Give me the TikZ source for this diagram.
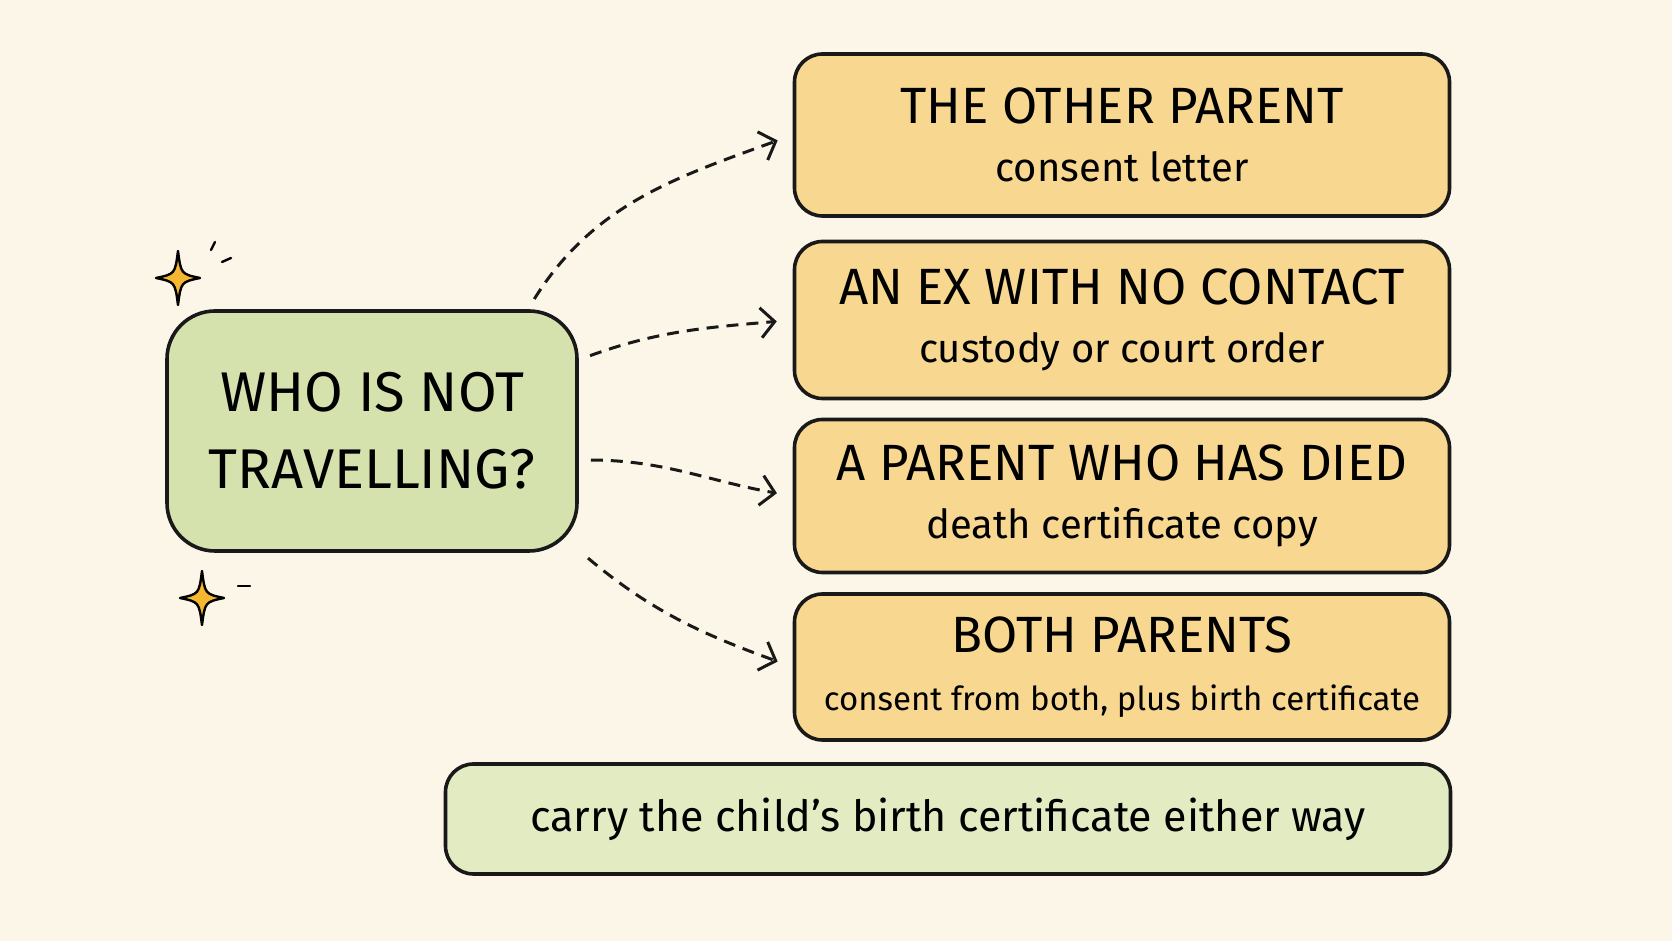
\documentclass[tikz,border=0pt]{standalone}
\usepackage{fontspec}
\newfontfamily\hand{Fira Sans}
\usetikzlibrary{arrows.meta}
\definecolor{paper}{HTML}{FBF6E8}
\definecolor{sage}{HTML}{D6E2AE}
\definecolor{sagelight}{HTML}{E3EBC3}
\definecolor{apricot}{HTML}{F8D891}
\definecolor{starfill}{HTML}{F5B731}
\tikzset{
box/.style={shape=rectangle, rounded corners=28pt, draw=black!90, line width=3.6pt, align=center, inner sep=0pt},
question/.style={box, fill=sage, minimum width=410pt, minimum height=240pt, rounded corners=48pt, font=\hand\fontsize{56}{77}\selectfont},
answer/.style={box, fill=apricot, minimum width=655pt, font=\hand\fontsize{40}{58}\selectfont},
note/.style={box, fill=sagelight, minimum width=1005pt, minimum height=110pt, font=\hand\fontsize{43}{48}\selectfont},
link/.style={line width=3pt, draw=black!90, dash pattern=on 12pt off 8pt, -{Straight Barb[length=14pt, width=30pt, line width=3pt]}, shorten >=16pt},
flick/.style={line width=2.4pt, line cap=round},
sparkle/.pic={\draw [line width=2.4pt, fill=starfill, line join=round] (0,27) .. controls (3,4) .. (22,0) .. controls (3,-4) .. (0,-27) .. controls (-3,-4) .. (-22,0) .. controls (-3,4) .. cycle;}}
\begin{document}
\begin{tikzpicture}[x=1pt, y=1pt]
\useasboundingbox [fill=paper] (0,0) rectangle (1672,941);
\node [question] (who) at (372,510) {WHO IS NOT\\TRAVELLING?};
\foreach \yc/\bh/\sz/\ttl/\sub/\st/\oa/\ia [count=\j] in {
    806/162/40/THE OTHER PARENT/consent letter/38/58/200,
    621/157/40/AN EX WITH NO CONTACT/custody or court order/19/20/185,
    445/153/40/A PARENT WHO HAS DIED/death certificate copy/-8/0/170,
    274/146/33/BOTH PARENTS/{consent from both, plus birth certificate}/-30/-40/160}{
      \node [answer, minimum height=\bh pt] at (1122,\yc) (ans-\j) {{\fontsize{51}{56}\selectfont\ttl}\\{\fontsize{\sz}{48}\selectfont\sub}};
      \draw [link, shorten <=12pt] (who.\st) to [out=\oa, in=\ia] (ans-\j.west);
}
\node [note] (tip) at (948,122) {carry the child’s birth certificate either way};
% sparkles
\pic at (178,663) {sparkle};
\pic at (202,343) {sparkle};
\draw [flick] (211,691) -- (215,699);
\draw [flick] (222,679) -- (231,683);
\draw [flick] (238,355) -- (250,355);
\end{tikzpicture}
\end{document}
